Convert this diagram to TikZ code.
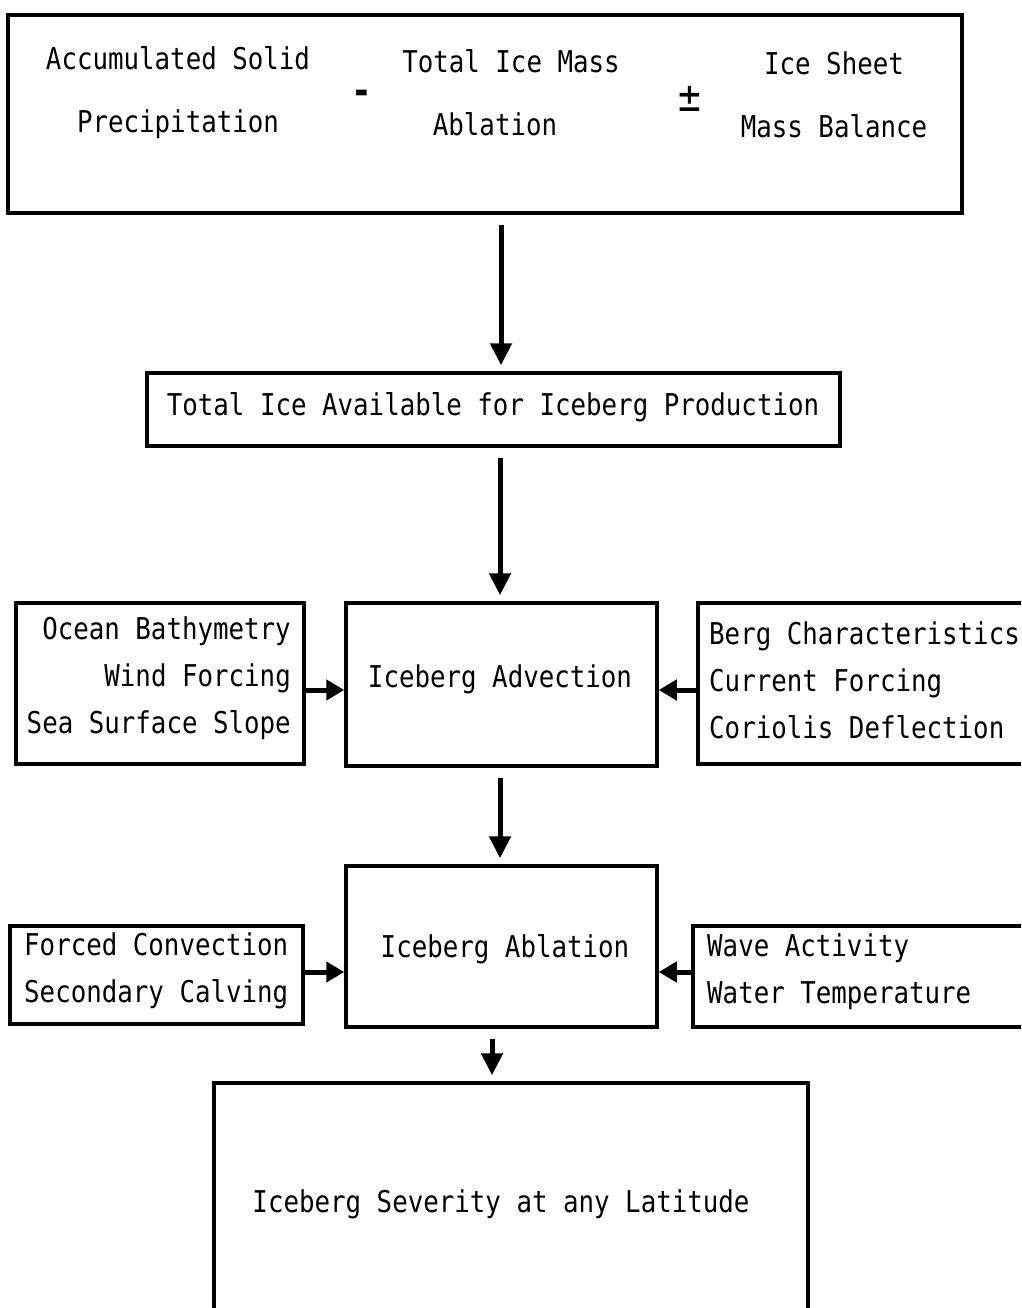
\documentclass[tikz,border=0pt]{standalone}
\usepackage{fontspec}
\newfontfamily\tw[FakeStretch=0.86]{DejaVu Sans Mono}
\usetikzlibrary{arrows.meta}
\begin{document}
\begin{tikzpicture}[x=1pt,y=-1pt,
  box/.style={draw, line width=3.5pt, inner sep=0pt},
  txt/.style={inner sep=0pt, font=\tw\fontsize{30}{47}\selectfont},
  arr/.style={line width=5pt, -{Triangle[length=22pt,width=21pt]}, shorten <=10pt, shorten >=6pt},
  harr/.style={line width=5pt, -{Triangle[length=18pt,width=20pt]}}]
\useasboundingbox (0,0) rectangle (1021,1308);
\clip (0,0) rectangle (1021,1308);
% boxes
\node[box, minimum width=954pt, minimum height=198pt] (top) at (485,114) {};
\node[box, minimum width=693pt, minimum height=73pt] (avail) at (493.5,409.5) {};
\node[box, minimum width=311pt, minimum height=163pt] (adv) at (501.5,684.5) {};
\node[box, minimum width=288pt, minimum height=161pt] (left1) at (160,683.5) {};
\node[box, minimum width=342pt, minimum height=161pt] (right1) at (869,683.5) {};
\node[box, minimum width=311pt, minimum height=161pt] (abl) at (501.5,946.5) {};
\node[box, minimum width=293pt, minimum height=98pt] (left2) at (156.5,975) {};
\node[box, minimum width=347pt, minimum height=101pt] (right2) at (866.5,976.5) {};
\node[box, minimum width=594pt, minimum height=257pt] (sev) at (511,1211.5) {};
% texts
\node[txt, align=center, font=\tw\fontsize{30}{63}\selectfont] (t1) at (178,92.5) {Accumulated Solid\\Precipitation};
\node[txt, font=\tw\bfseries\fontsize{40}{40}\selectfont] (minus) at (362,97) {-};
\node[txt] (t2a) at (511,61) {Total Ice Mass};
\node[txt] (t2b) at (495,124) {Ablation};
\node[txt, font=\tw\fontsize{44}{44}\selectfont] (pm) at (690,99) {±};
\node[txt, align=center, font=\tw\fontsize{30}{63}\selectfont] (t3) at (834,94.5) {Ice Sheet\\Mass Balance};
\node[txt] (tavail) at (493,407) {Total Ice Available for Iceberg Production};
\node[txt] (tadv) at (500,679) {Iceberg Advection};
\node[txt, align=right, anchor=east] (tl1) at (291,678) {Ocean Bathymetry\\Wind Forcing\\Sea Surface Slope};
\node[txt, align=left, anchor=west] (tr1) at (709,680) {Berg Characteristics\\Current Forcing\\Coriolis Deflection};
\node[txt] (tabl) at (505,949) {Iceberg Ablation};
\node[txt, align=left, anchor=west] (tl2) at (24,971) {Forced Convection\\Secondary Calving};
\node[txt, align=left, anchor=west] (tr2) at (707,972) {Wave Activity\\Water Temperature};
\node[txt] (tsev) at (501,1204) {Iceberg Severity at any Latitude};
% connectors
\draw[arr] ([shift={(16,0)}]top.south) -- ([shift={(7.5,0)}]avail.north);
\draw[arr] ([shift={(6.5,0)}]avail.south) -- ([shift={(-1.5,0)}]adv.north);
\draw[arr] ([shift={(-1.5,0)}]adv.south) -- ([shift={(-1.5,0)}]abl.north);
\draw[arr] ([shift={(-9.5,0)}]abl.south) -- ([shift={(-19,0)}]sev.north);
\draw[harr] ([shift={(0,6.5)}]left1.east) -- ([shift={(0,5.5)}]adv.west);
\draw[harr] ([shift={(0,6.5)}]right1.west) -- ([shift={(0,5.5)}]adv.east);
\draw[harr] ([shift={(0,-3)}]left2.east) -- ([shift={(0,25.5)}]abl.west);
\draw[harr] ([shift={(0,-4.5)}]right2.west) -- ([shift={(0,25.5)}]abl.east);
\end{tikzpicture}
\end{document}
